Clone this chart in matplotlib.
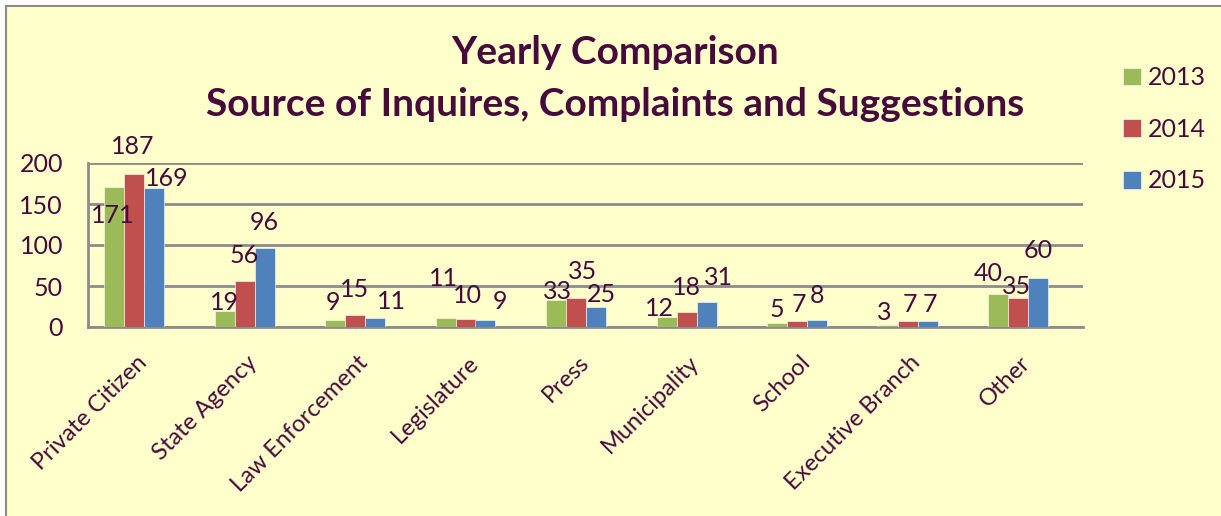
import matplotlib
matplotlib.use("Agg")
import matplotlib.pyplot as plt
from matplotlib.patches import Rectangle
import matplotlib.transforms as mtransforms
import numpy as np

categories = ["Private Citizen", "State Agency", "Law Enforcement", "Legislature",
              "Press", "Municipality", "School", "Executive Branch", "Other"]
series_names = ["2013", "2014", "2015"]
vals_2013 = [171, 19, 9, 11, 33, 12, 5, 3, 40]
vals_2014 = [187, 56, 15, 10, 35, 18, 7, 7, 35]
vals_2015 = [169, 96, 11, 9, 25, 31, 8, 7, 60]
yticks = [0, 50, 100, 150, 200]
title_line1 = "Yearly Comparison"
title_line2 = "Source of Inquires, Complaints and Suggestions"

# label offsets (pixels) relative to bar top center, mimicking Excel placement
offs_2013 = [(-1, -29), (0, 9), (-2, 17), (-2, 39), (1, 8), (-7, 9), (0, 13), (-3, 12), (-10, 21)]
offs_2014 = [(-1, 27), (0, 26), (0, 25), (2, 23), (7, 27), (0, 25), (2, 17), (2, 17), (-1, 12)]
offs_2015 = [(13, 10), (0, 26), (16, 16), (15, 18), (5, 12), (12, 24), (0, 25), (2, 17), (0, 27)]

colors = ["#9BBB59", "#C0504D", "#4F81BD"]
txt = "#470A3C"
bg = "#FFFFCC"
grid_c = "#8C8C8C"
FONT = "Lato"

W, H = 1221, 516
fig = plt.figure(figsize=(W / 100, H / 100), dpi=100, facecolor="white")
fig.patches.append(Rectangle((6 / W, -0.1), 1.2, 1.1 - 6 / H, transform=fig.transFigure,
                             facecolor=bg, edgecolor="#8C8C8C", linewidth=1.5, zorder=-10))

ax = fig.add_axes([88 / W, (H - 327) / H, (1083 - 88) / W, (327 - 163) / H])
ax.set_facecolor("none")

x = np.arange(len(categories))
bw = 20 / 110.5
all_vals = [vals_2013, vals_2014, vals_2015]
all_offs = [offs_2013, offs_2014, offs_2015]
handles = []
for k, (vals, offs) in enumerate(zip(all_vals, all_offs)):
    xs = x + (k - 1) * bw
    b = ax.bar(xs, vals, width=bw, color=colors[k], edgecolor="white", linewidth=0.4,
               label=series_names[k], zorder=3)
    handles.append(b)
    for xi, v, (dx, dy) in zip(xs, vals, offs):
        ax.annotate(str(v), (xi, v), xytext=(dx, dy), textcoords="offset pixels",
                    ha="center", va="center", fontsize=18, color=txt,
                    family=FONT, zorder=5)

ax.set_xlim((88 - 134) / 110.5, (1083 - 134) / 110.5)
ax.set_ylim(0, 200)
ax.set_yticks(yticks)
ax.set_yticklabels([str(t) for t in yticks], fontsize=18, color=txt, family=FONT)
ax.yaxis.grid(True, color=grid_c, linewidth=2, zorder=0)
ax.set_axisbelow(True)
ax.tick_params(axis="y", length=0, pad=18)
ax.set_xticks(x)
ax.set_xticklabels(categories, rotation=45, ha="right", va="top", rotation_mode="anchor",
                   fontsize=17, color=txt, family=FONT)
ax.tick_params(axis="x", length=0, pad=18)
for s in ["top", "right"]:
    ax.spines[s].set_visible(False)
for s in ["left", "bottom"]:
    ax.spines[s].set_color(grid_c)
    ax.spines[s].set_linewidth(2)

offset = mtransforms.ScaledTranslation(2 / 100, 0, fig.dpi_scale_trans)
for lab in ax.get_xticklabels():
    lab.set_transform(lab.get_transform() + offset)

fig.text(615 / W, 1 - 53 / H, title_line1, ha="center", va="center", fontsize=28,
         fontweight="bold", color=txt, family=FONT)
fig.text(615 / W, 1 - 104 / H, title_line2, ha="center", va="center", fontsize=28,
         fontweight="bold", color=txt, family=FONT)

leg = fig.legend(handles=handles, labels=series_names, loc="upper left",
                 bbox_to_anchor=(1123 / W, 1 - 66 / H), frameon=False,
                 prop={"family": FONT, "size": 18}, labelcolor=txt,
                 handlelength=0.7, handleheight=0.7, handletextpad=0.3,
                 labelspacing=1.15, borderpad=0, borderaxespad=0)

fig.savefig("out.png", dpi=100, facecolor="white")
